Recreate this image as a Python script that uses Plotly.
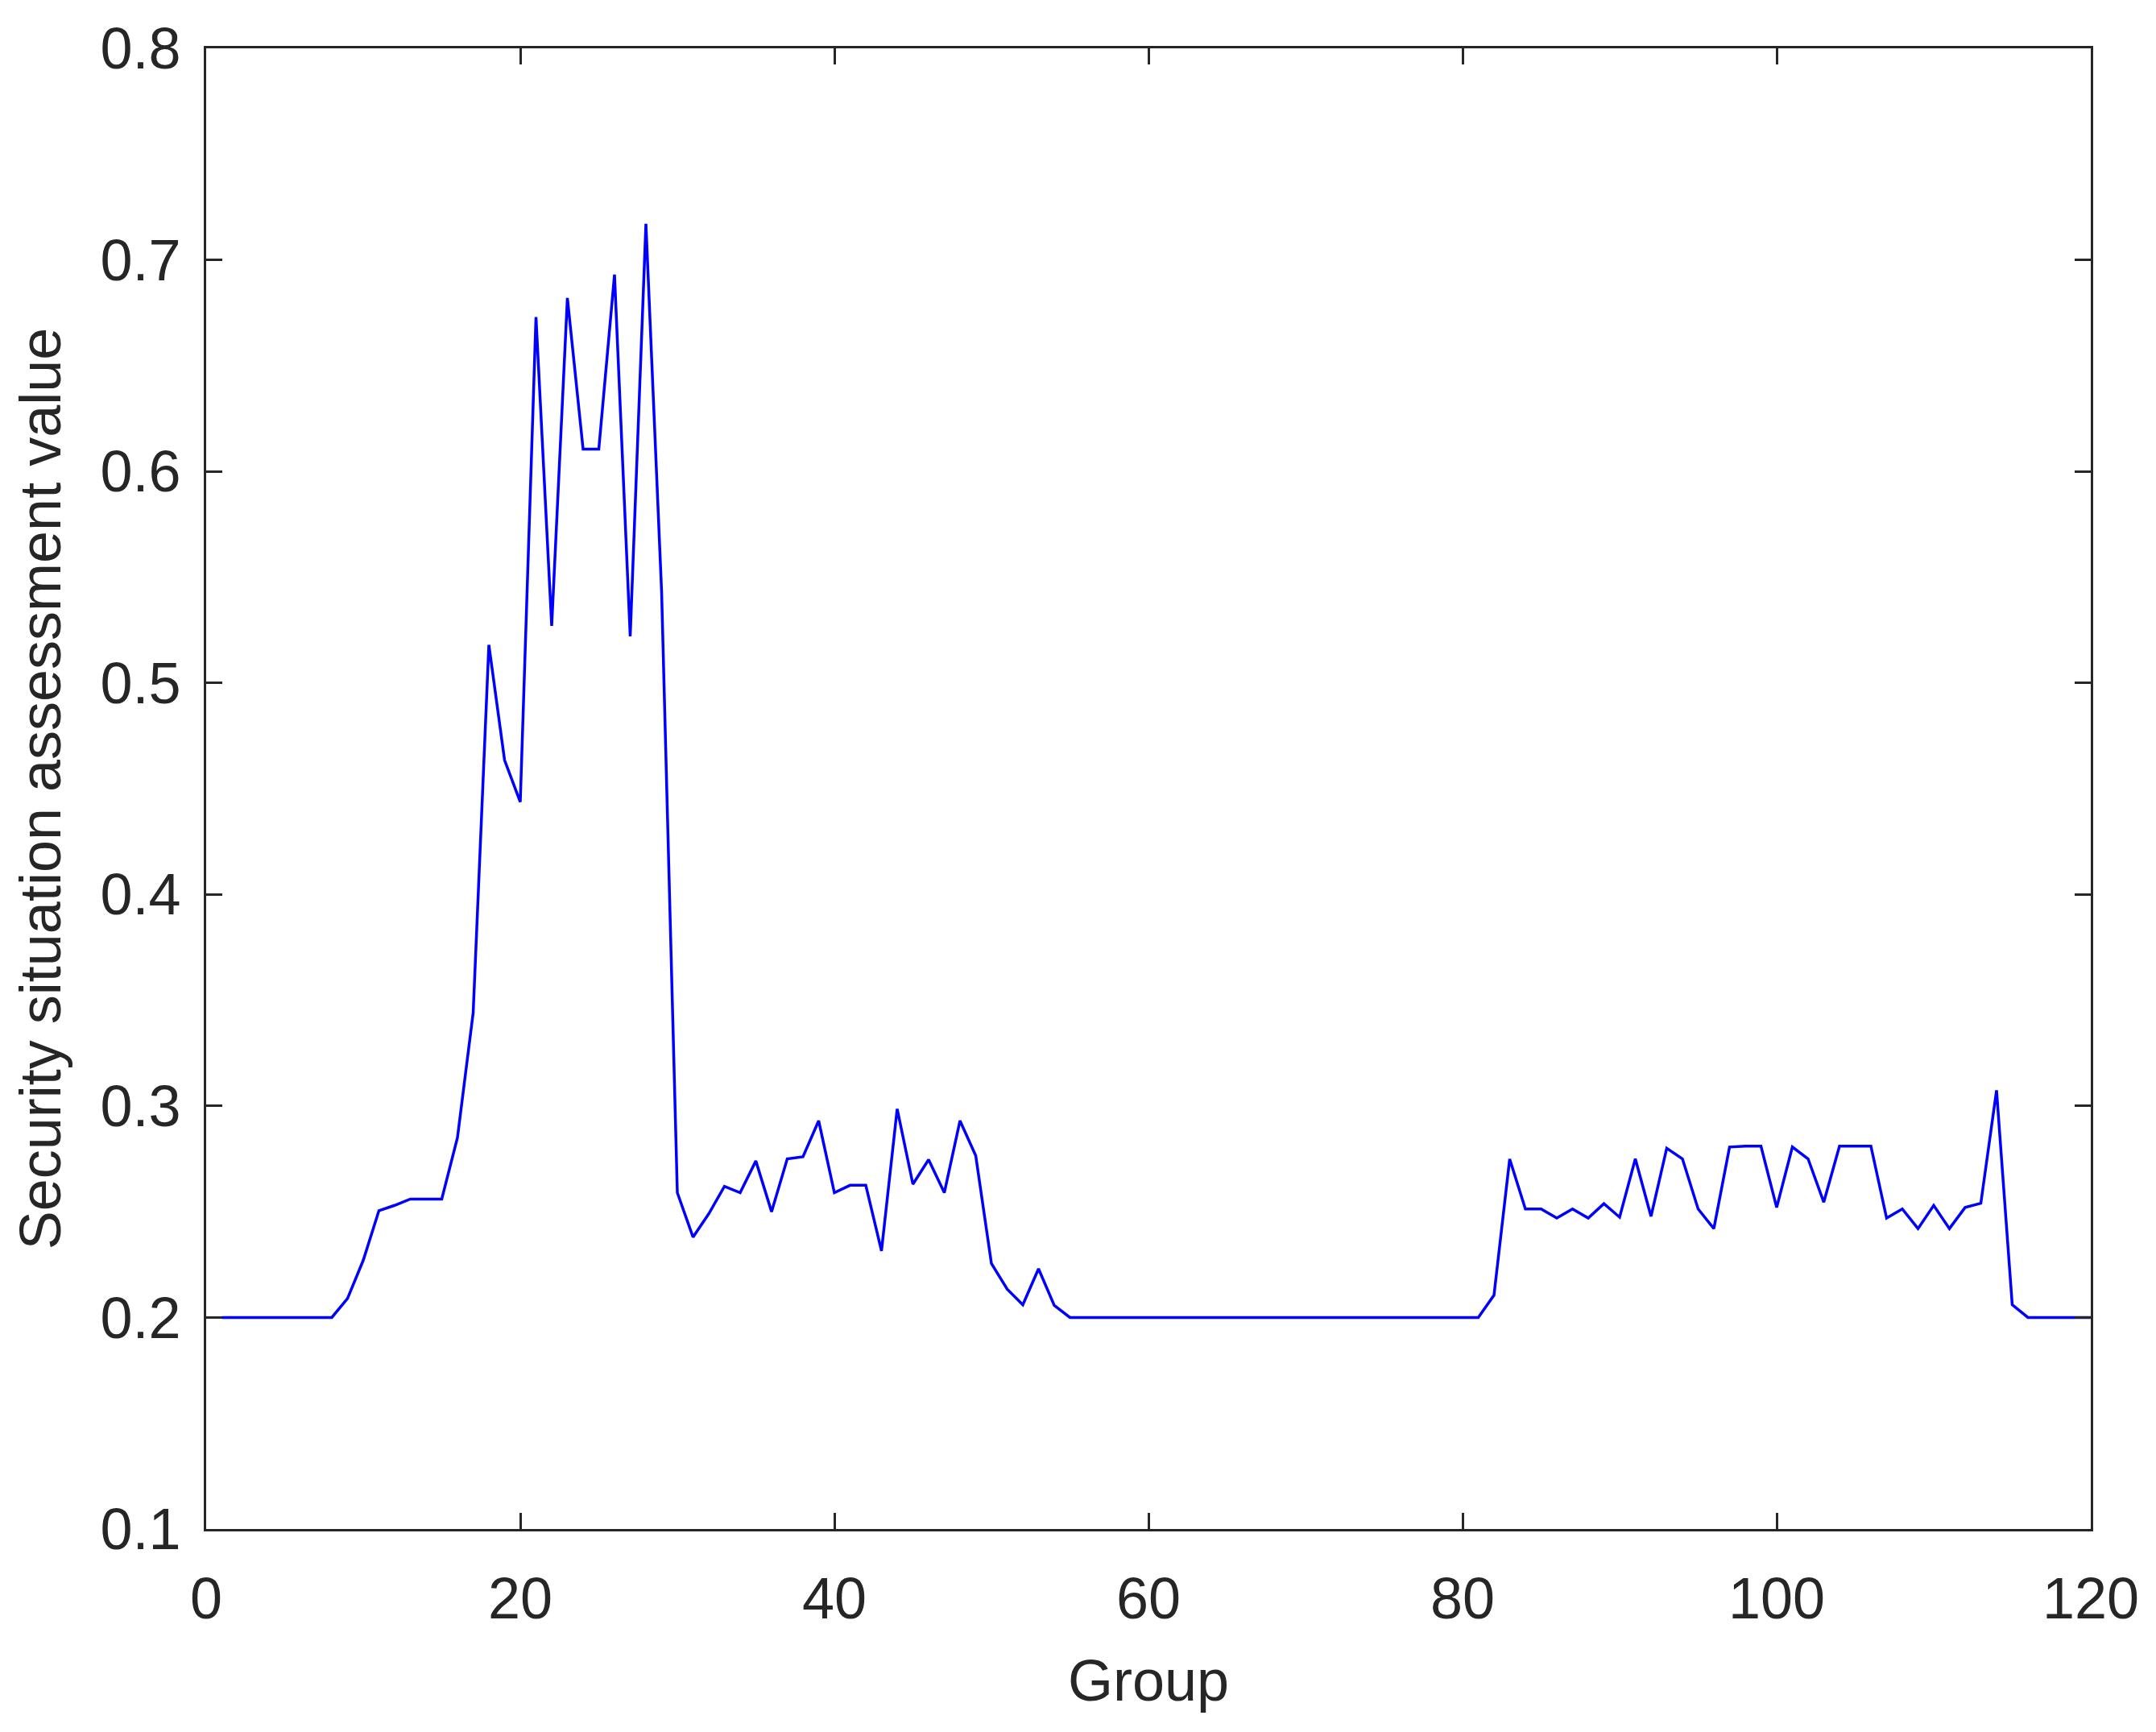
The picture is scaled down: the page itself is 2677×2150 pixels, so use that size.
import plotly.graph_objects as go

# group index 1..120
groups = list(range(1, 121))

values = [
    0.2, 0.2, 0.2, 0.2, 0.2, 0.2, 0.2, 0.2, 0.209, 0.227,            # 1-10
    0.2505, 0.253, 0.256, 0.256, 0.256, 0.285, 0.344, 0.518, 0.4635, 0.4437,  # 11-20
    0.673, 0.527, 0.682, 0.6105, 0.6105, 0.693, 0.522, 0.717, 0.543, 0.259,   # 21-30
    0.238, 0.249, 0.262, 0.259, 0.274, 0.250, 0.275, 0.276, 0.293, 0.259,     # 31-40
    0.2625, 0.2625, 0.2315, 0.2986, 0.263, 0.2746, 0.259, 0.293, 0.2765, 0.2255,  # 41-50
    0.2134, 0.206, 0.223, 0.2057, 0.2, 0.2, 0.2, 0.2, 0.2, 0.2,               # 51-60
    0.2, 0.2, 0.2, 0.2, 0.2, 0.2, 0.2, 0.2, 0.2, 0.2,                         # 61-70
    0.2, 0.2, 0.2, 0.2, 0.2, 0.2, 0.2, 0.2, 0.2, 0.2,                         # 71-80
    0.2, 0.2105, 0.2749, 0.2513, 0.2513, 0.247, 0.2513, 0.247, 0.2538, 0.2474,  # 81-90
    0.275, 0.2478, 0.280, 0.275, 0.2513, 0.242, 0.2806, 0.281, 0.281, 0.252,  # 91-100
    0.2806, 0.275, 0.2545, 0.281, 0.281, 0.281, 0.247, 0.2513, 0.242, 0.253,  # 101-110
    0.242, 0.252, 0.254, 0.3074, 0.206, 0.2, 0.2, 0.2, 0.2, 0.2,              # 111-120
]

x_ticks = [0, 20, 40, 60, 80, 100, 120]
y_ticks = [0.1, 0.2, 0.3, 0.4, 0.5, 0.6, 0.7, 0.8]

ink = '#262626'
font = 'Liberation Sans, Arial, sans-serif'

fig = go.Figure()
fig.add_trace(go.Scatter(x=groups, y=values, mode='lines',
                         line=dict(color='#0000FF', width=3.5)))

axis_style = dict(showline=True, linecolor=ink, linewidth=3, mirror='ticks',
                  ticks='inside', ticklen=20, tickwidth=3, tickcolor=ink,
                  showgrid=False, zeroline=False, ticklabeloverflow='allow',
                  tickfont=dict(family=font, size=72, color=ink),
                  title_font=dict(family=font, size=72, color=ink))

fig.update_xaxes(range=[0, 120], tickvals=x_ticks, ticklabelstandoff=22,
                 title_text='Group', title_standoff=38, **axis_style)
fig.update_yaxes(range=[0.1, 0.8], tickvals=y_ticks, tickformat='.1f',
                 ticklabelstandoff=14,
                 title_text='Security situation assessment value', title_standoff=26,
                 **axis_style)

# page body adds ~8px offset, so margins are trimmed by that much
fig.update_layout(width=2677, height=2150, showlegend=False,
                  plot_bgcolor='white', paper_bgcolor='white',
                  margin=dict(l=248, r=89, t=43, b=260))

fig.write_html('out.html')
